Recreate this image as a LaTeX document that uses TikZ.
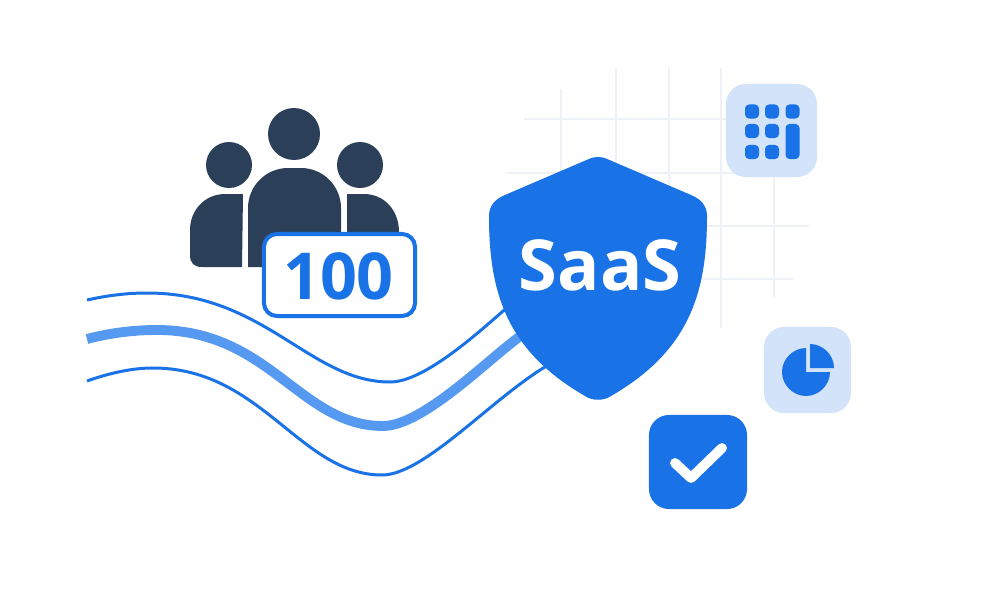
\documentclass[tikz,border=0pt]{standalone}
\usepackage{fontspec}
\setmainfont{Open Sans}
\usetikzlibrary{calc,shapes,positioning}
\definecolor{sblue}{HTML}{1972E6}
\definecolor{slight}{HTML}{5599F0}
\definecolor{stile}{HTML}{D3E3F9}
\definecolor{sdark}{HTML}{2B3F58}
\definecolor{sgrid}{HTML}{EEF1F6}
\begin{document}
\begin{tikzpicture}[x=0.01cm,y=-0.01cm]
  \useasboundingbox (0,0) rectangle (1000,600);

  \begin{scope}[line width=0.8pt, draw=sgrid]
    \draw (561,89) -- (561,230);
    \draw (616,68) -- (616,200);
    \draw (669,68) -- (669,200);
    \draw (721,68) -- (721,328);
    \draw (774,170) -- (774,297);
    \draw (524,119) -- (730,119);
    \draw (507,173) -- (780,173);
    \draw (640,226) -- (809,226);
    \draw (640,279) -- (793,279);
  \end{scope}

  \begin{scope}[line width=0.85pt, draw=sblue]
    \draw (87,300) .. controls (105,296) and (125,293) .. (147,293) .. controls (265,293) and (310,382) .. (390,382) .. controls (425,382) and (480,331) .. (510,305);
    \draw (87,381) .. controls (107,374) and (130,368) .. (153,368) .. controls (262,368) and (300,475) .. (382,475) .. controls (425,475) and (495,395) .. (550,364);
    \draw[line width=2.8pt, draw=slight] (87,339) .. controls (110,333) and (133,330) .. (157,330) .. controls (270,330) and (300,426) .. (383,426) .. controls (425,426) and (495,352) .. (525,333);
  \end{scope}

  \begin{scope}[fill=sdark]
    \fill (294,134) circle (26);
    \fill (229,165) circle (23);
    \fill (360,165) circle (23);
    \fill (243,194) -- (225,194) .. controls (205,194) and (190,210) .. (190,230) -- (190,255) .. controls (190,263) and (194,267) .. (202,267) -- (242,267) -- cycle;
    \fill (248,267) -- (248,208) .. controls (248,186) and (266,168) .. (288,168) -- (301,168) .. controls (323,168) and (341,186) .. (341,208) -- (341,267) -- cycle;
    \fill (347,194) -- (364,194) .. controls (384,194) and (399,210) .. (399,232) -- (399,260) -- (347,260) -- cycle;
  \end{scope}

  \tikzstyle{tbox} = [rectangle, fill=stile, inner sep=0pt, rounded corners=0.2cm]
  \tikzstyle{dbox} = [rectangle, fill=sblue, inner sep=0pt, rounded corners=0.04cm, minimum size=0.14cm]

  \node[rectangle, draw=sblue, fill=white, line width=1.15pt, rounded corners=0.13cm, inner sep=0pt, minimum width=1.51cm, minimum height=0.82cm] (count) at (339.5,275) {};
  \node[text=sblue, font=\fontsize{18.4}{19}\selectfont\bfseries] (num) at (338.5,276) {100};

  \fill[sblue] (590,158.5) .. controls (595,156.5) and (601,156.5) .. (606,158.5) -- (691,195) .. controls (701,199) and (707,206) .. (707,216) .. controls (707,290) and (691,350) .. (611,396) .. controls (604,401) and (592,401) .. (585,396) .. controls (505,350) and (489,290) .. (489,216) .. controls (489,206) and (495,199) .. (505,195) -- cycle;
  \node[text=white, font=\fontsize{20}{20}\selectfont\bfseries] (saas) at (600,265) {SaaS};

  \node[tbox, minimum width=0.91cm, minimum height=0.93cm] (tgrid) at (771.5,130.5) {};
  \node[dbox] (d1) at (752,111.5) {};
  \node[dbox] (d2) at (772,111.5) {};
  \node[dbox] (d3) at (792.5,111.5) {};
  \node[dbox] (d4) at (752,131) {};
  \node[dbox] (d5) at (772,131) {};
  \node[dbox] (d6) at (752,152) {};
  \node[dbox] (d7) at (772,152) {};
  \node[dbox, minimum height=0.35cm] (bar) at (792.5,141.5) {};

  \node[tbox, minimum width=0.87cm, minimum height=0.86cm] (tpie) at (807.5,370) {};
  \fill[sblue] (806,372) -- (806,348) .. controls (793,348) and (782,359) .. (782,372) .. controls (782,385) and (793,396) .. (806,396) .. controls (819,396) and (830,385) .. (830,372) -- cycle;
  \fill[sblue] (810,368) -- (810,344) .. controls (823,344) and (834,355) .. (834,368) -- cycle;

  \node[tbox, fill=sblue, minimum width=0.98cm, minimum height=0.94cm] (tcheck) at (698,462) {};
  \draw[white, line width=2.8pt, line cap=round, line join=round] (675,463) -- (691,478) -- (722,448);
\end{tikzpicture}
\end{document}
